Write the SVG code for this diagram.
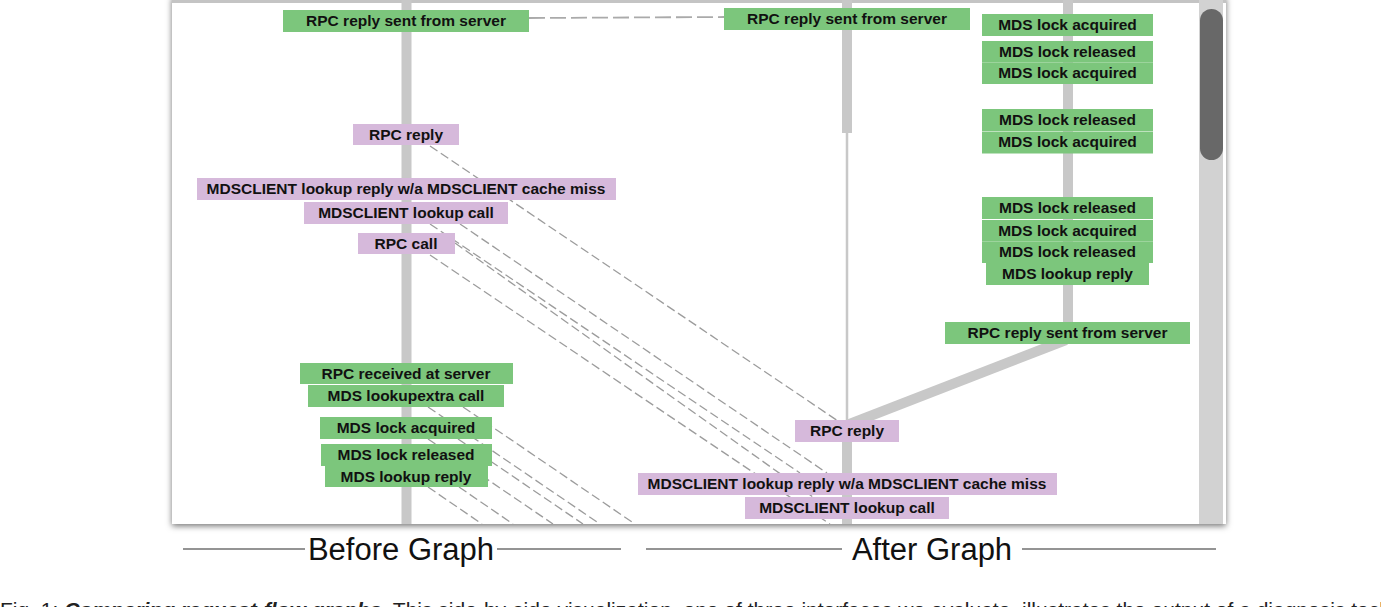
<svg xmlns="http://www.w3.org/2000/svg" width="1381" height="607" viewBox="0 0 1381 607">
<defs>
<style>
.g{fill:#7cc67c}
.p{fill:#d6b9db}
.t{font-family:"Liberation Sans",Arial,sans-serif;font-weight:bold;font-size:15.5px;fill:#111;text-anchor:middle}
.trunk{stroke:#c8c8c8;stroke-width:10;fill:none}
.dash{stroke:#9c9c9c;stroke-width:1.3;stroke-dasharray:9 4;fill:none}
.cap{font-family:"Liberation Sans",Arial,sans-serif;font-size:31px;fill:#111;text-anchor:middle}
.rule{stroke:#707070;stroke-width:1.5}
.fig{font-family:"Liberation Sans",Arial,sans-serif;font-size:21px;fill:#222}
</style>
<filter id="sh" x="-5%" y="-5%" width="110%" height="115%"><feDropShadow dx="0" dy="2" stdDeviation="3" flood-color="#000" flood-opacity="0.55"/></filter>
<clipPath id="pc"><rect x="172" y="0" width="1054" height="524"/></clipPath>
</defs>
<rect width="1381" height="607" fill="#fff"/>
<g id="panel">
<rect x="172" y="-4" width="1054" height="528" fill="#fff" filter="url(#sh)"/>
<line x1="172" y1="1.5" x2="1226" y2="1.5" stroke="#c4c4c4" stroke-width="3"/>
<rect x="1199" y="0" width="24" height="524" fill="#d2d2d2"/>
<rect x="1200" y="9" width="23" height="151" rx="11.5" fill="#686868"/>
</g>
<g id="connectors" clip-path="url(#pc)">
<line class="trunk" x1="406.5" y1="0" x2="406.5" y2="524"/>
<line class="trunk" x1="847" y1="0" x2="847" y2="133"/>
<line x1="847" y1="133" x2="847" y2="422" stroke="#c8c8c8" stroke-width="2.5"/>
<line class="trunk" x1="847" y1="440" x2="847" y2="524"/>
<line class="trunk" x1="1068" y1="0" x2="1068" y2="330"/>
<line class="trunk" x1="1066" y1="340" x2="847" y2="425"/>
<line x1="529" y1="18" x2="724" y2="17" stroke="#aaa" stroke-width="1.8" stroke-dasharray="16 5"/>
<line class="dash" x1="430" y1="146" x2="838" y2="421"/>
<line class="dash" x1="460" y1="224" x2="827" y2="473"/>
<line class="dash" x1="430" y1="224" x2="800" y2="473"/>
<line class="dash" x1="455" y1="243" x2="813" y2="497"/>
<line class="dash" x1="430" y1="255" x2="830" y2="524"/>
<line class="dash" x1="428" y1="407" x2="600" y2="524"/>
<line class="dash" x1="463" y1="407" x2="635" y2="524"/>
<line class="dash" x1="428" y1="439" x2="553" y2="524"/>
<line class="dash" x1="458" y1="439" x2="583" y2="524"/>
<line class="dash" x1="428" y1="487" x2="482" y2="524"/>
<line class="dash" x1="459" y1="487" x2="513" y2="524"/>
</g>
<g id="before-rpc-reply-sent"><rect class="g" x="283" y="10" width="246" height="22"/><text class="t" x="406" y="26">RPC reply sent from server</text></g>
<g id="before-rpc-reply"><rect class="p" x="353" y="124" width="106" height="21"/><text class="t" x="406" y="140">RPC reply</text></g>
<g id="before-mdsclient-lookup-reply"><rect class="p" x="197" y="178" width="419" height="22"/><text class="t" x="406" y="194">MDSCLIENT lookup reply w/a MDSCLIENT cache miss</text></g>
<g id="before-mdsclient-lookup-call"><rect class="p" x="304" y="202" width="204" height="22"/><text class="t" x="406" y="218">MDSCLIENT lookup call</text></g>
<g id="before-rpc-call"><rect class="p" x="358" y="233" width="97" height="21"/><text class="t" x="406" y="249">RPC call</text></g>
<g id="before-rpc-received"><rect class="g" x="300" y="363" width="213" height="21"/><text class="t" x="406" y="379">RPC received at server</text></g>
<g id="before-lookupextra"><rect class="g" x="308" y="385" width="196" height="22"/><text class="t" x="406" y="401">MDS lookupextra call</text></g>
<g id="before-lock-acquired"><rect class="g" x="320" y="417" width="172" height="22"/><text class="t" x="406" y="433">MDS lock acquired</text></g>
<g id="before-lock-released"><rect class="g" x="321" y="444" width="171" height="22"/><text class="t" x="406" y="460">MDS lock released</text></g>
<g id="before-lookup-reply"><rect class="g" x="325" y="466" width="163" height="21"/><text class="t" x="406" y="482">MDS lookup reply</text></g>
<g id="after-rpc-reply-sent-1"><rect class="g" x="724" y="8" width="246" height="22"/><text class="t" x="847" y="24">RPC reply sent from server</text></g>
<g id="after-lock-acquired-1"><rect class="g" x="982" y="14" width="171" height="22"/><text class="t" x="1067.5" y="30">MDS lock acquired</text></g>
<g id="after-lock-released-1"><rect class="g" x="982" y="41" width="171" height="21.5"/><text class="t" x="1067.5" y="56.5">MDS lock released</text></g>
<g id="after-lock-acquired-2"><rect class="g" x="982" y="62.5" width="171" height="21.5"/><text class="t" x="1067.5" y="78">MDS lock acquired</text></g>
<g id="after-lock-released-2"><rect class="g" x="982" y="109" width="171" height="22"/><text class="t" x="1067.5" y="125">MDS lock released</text></g>
<g id="after-lock-acquired-3"><rect class="g" x="982" y="131.5" width="171" height="22"/><text class="t" x="1067.5" y="147">MDS lock acquired</text></g>
<g id="after-lock-released-3"><rect class="g" x="982" y="197" width="171" height="22"/><text class="t" x="1067.5" y="213">MDS lock released</text></g>
<g id="after-lock-acquired-4"><rect class="g" x="982" y="220" width="171" height="21.5"/><text class="t" x="1067.5" y="236">MDS lock acquired</text></g>
<g id="after-lock-released-4"><rect class="g" x="982" y="241.5" width="171" height="21.5"/><text class="t" x="1067.5" y="257">MDS lock released</text></g>
<g id="after-lookup-reply"><rect class="g" x="986" y="263" width="163" height="22"/><text class="t" x="1067.5" y="279">MDS lookup reply</text></g>
<g id="after-rpc-reply-sent-2"><rect class="g" x="945" y="322" width="245" height="22"/><text class="t" x="1067.5" y="338">RPC reply sent from server</text></g>
<g id="after-rpc-reply"><rect class="p" x="795" y="420" width="104" height="22"/><text class="t" x="847" y="436">RPC reply</text></g>
<g id="after-mdsclient-lookup-reply"><rect class="p" x="638" y="473" width="419" height="22"/><text class="t" x="847" y="489">MDSCLIENT lookup reply w/a MDSCLIENT cache miss</text></g>
<g id="after-mdsclient-lookup-call"><rect class="p" x="745" y="497" width="204" height="22"/><text class="t" x="847" y="513">MDSCLIENT lookup call</text></g>
<g id="captions">
<line class="rule" x1="183" y1="549" x2="305" y2="549"/>
<line class="rule" x1="497" y1="549" x2="621" y2="549"/>
<text class="cap" x="401" y="560">Before Graph</text>
<line class="rule" x1="646" y1="549" x2="842" y2="549"/>
<line class="rule" x1="1022" y1="549" x2="1216" y2="549"/>
<text class="cap" x="932" y="560">After Graph</text>
<text class="fig" x="0" y="617">Fig. 1: <tspan font-weight="bold" font-style="italic">Comparing request-flow graphs.</tspan> This side-by-side visualization, one of three interfaces we evaluate, illustrates the output of a diagnosis technique that compares graphs.</text>
</g>
</svg>
